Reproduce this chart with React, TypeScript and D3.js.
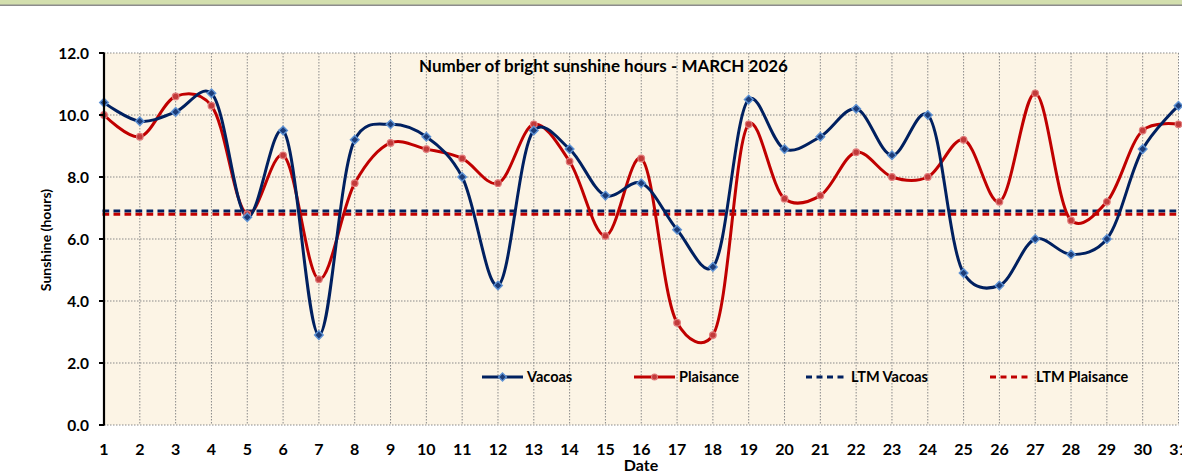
import React from "react";
import * as d3 from "d3";

const days = d3.range(1, 32);
const vacoas = [10.4, 9.8, 10.1, 10.7, 6.7, 9.5, 2.9, 9.2, 9.7, 9.3, 8.0, 4.5, 9.5, 8.9, 7.4, 7.8, 6.3, 5.1, 10.5, 8.9, 9.3, 10.2, 8.7, 10.0, 4.9, 4.5, 6.0, 5.5, 6.0, 8.9, 10.3];
const plaisance = [10.0, 9.3, 10.6, 10.3, 6.8, 8.7, 4.7, 7.8, 9.1, 8.9, 8.6, 7.8, 9.7, 8.5, 6.1, 8.6, 3.3, 2.9, 9.7, 7.3, 7.4, 8.8, 8.0, 8.0, 9.2, 7.2, 10.7, 6.6, 7.2, 9.5, 9.7];
const ltmVacoas = 6.9;
const ltmPlaisance = 6.8;
const yTicks = [0, 2, 4, 6, 8, 10, 12];
const title = "Number of bright sunshine hours - MARCH 2026";
const legendLabels = ["Vacoas", "Plaisance", "LTM Vacoas", "LTM Plaisance"];

const W = 1182;
const H = 474;
const FONT = "Lato, 'Open Sans', sans-serif";
const NAVY = "#002060";
const RED = "#C00000";

export default function App() {
  const x = d3.scaleLinear().domain([1, 31]).range([104, 1178.5]);
  const y = d3.scaleLinear().domain([0, 12]).range([425, 53]);
  const line = d3
    .line<number>()
    .x((_, i) => x(days[i]))
    .y((d) => y(d))
    .curve(d3.curveCatmullRom.alpha(0.25));

  const diamond = (cx: number, cy: number, r: number) =>
    `M${cx},${cy - r}L${cx + r},${cy}L${cx},${cy + r}L${cx - r},${cy}Z`;

  const legendItems = [
    { x0: 482, x1: 523, tx: 527, color: NAVY, kind: "diamond" },
    { x0: 634, x1: 675, tx: 679, color: RED, kind: "circle" },
    { x0: 806, x1: 846, tx: 851, color: NAVY, kind: "dash" },
    { x0: 990, x1: 1030, tx: 1036, color: RED, kind: "dash" },
  ];
  const ly = 377;

  return (
    <svg
      width={W}
      height={H}
      style={{ position: "absolute", left: 0, top: 0, background: "#fff" }}
      fontFamily={FONT}
    >
      <rect x={0} y={0} width={W} height={5} fill="#D3DFAE" />
      <rect x={0} y={4.5} width={W} height={1.5} fill="#8C8C8C" />

      {/* plot area */}
      <rect x={x(1)} y={y(12)} width={x(31) - x(1)} height={y(0) - y(12)} fill="#FCF4E5" />

      {/* grid */}
      {yTicks.map((t) => (
        <line
          key={"h" + t}
          x1={x(1)}
          x2={x(31)}
          y1={y(t)}
          y2={y(t)}
          stroke="#8a8a8a"
          strokeWidth={1}
          strokeDasharray="1.5,1.5"
        />
      ))}
      {days.map((d) => (
        <line
          key={"v" + d}
          x1={x(d)}
          x2={x(d)}
          y1={y(12)}
          y2={y(0)}
          stroke="#8a8a8a"
          strokeWidth={1}
          strokeDasharray="1.5,1.5"
        />
      ))}

      {/* LTM lines */}
      <line x1={x(1) - 1.5} x2={x(31)} y1={y(ltmVacoas)} y2={y(ltmVacoas)} stroke={NAVY} strokeWidth={3} strokeDasharray="6.7,4.3" />
      <line x1={x(1) - 1.5} x2={x(31)} y1={y(ltmPlaisance)} y2={y(ltmPlaisance)} stroke={RED} strokeWidth={3} strokeDasharray="6.7,4.3" />

      {/* series */}
      <path d={line(plaisance) || ""} fill="none" stroke={RED} strokeWidth={3} />
      <path d={line(vacoas) || ""} fill="none" stroke={NAVY} strokeWidth={3} />
      {plaisance.map((v, i) => (
        <circle key={"pc" + i} cx={x(days[i])} cy={y(v)} r={3.3} fill="#C23A3A" stroke="#E07A7A" strokeWidth={1.2} />
      ))}
      {vacoas.map((v, i) => (
        <path key={"vd" + i} d={diamond(x(days[i]), y(v), 4.3)} fill="#1C3C78" stroke="#5E92D4" strokeWidth={1.4} />
      ))}

      {/* y axis */}
      <line x1={x(1)} x2={x(1)} y1={y(12) - 0.5} y2={y(0) + 0.5} stroke="#000" strokeWidth={2.2} />
      {yTicks.map((t) => (
        <g key={"yt" + t}>
          <line x1={x(1) - 5} x2={x(1)} y1={y(t)} y2={y(t)} stroke="#000" strokeWidth={2} />
          <text x={89} y={y(t)} dy="0.36em" textAnchor="end" fontSize={15.5} fontWeight={700} fill="#000">
            {t.toFixed(1)}
          </text>
        </g>
      ))}

      {/* x labels */}
      {days.map((d) => (
        <text key={"xt" + d} x={x(d)} y={455} textAnchor="middle" fontSize={16} fontWeight={700} fill="#000">
          {d}
        </text>
      ))}

      <text x={641} y={471} textAnchor="middle" fontSize={16} fontWeight={700} fill="#000">
        Date
      </text>
      <text
        transform={`translate(51,240) rotate(-90)`}
        textAnchor="middle"
        fontSize={14}
        fontWeight={700}
        fill="#000"
      >
        Sunshine (hours)
      </text>

      <text x={603.5} y={72} textAnchor="middle" fontSize={17} fontWeight={700} fill="#000">
        {title}
      </text>

      {/* legend */}
      {legendItems.map((it, i) => (
        <g key={"lg" + i}>
          {it.kind === "dash" ? (
            <line x1={it.x0} x2={it.x1} y1={ly} y2={ly} stroke={it.color} strokeWidth={3} strokeDasharray="6,4.5" />
          ) : (
            <line x1={it.x0} x2={it.x1} y1={ly} y2={ly} stroke={it.color} strokeWidth={3} />
          )}
          {it.kind === "diamond" && (
            <path d={diamond((it.x0 + it.x1) / 2, ly, 4)} fill="#1C3C78" stroke="#5E92D4" strokeWidth={1.3} />
          )}
          {it.kind === "circle" && (
            <circle cx={(it.x0 + it.x1) / 2} cy={ly} r={3} fill="#C23A3A" stroke="#E07A7A" strokeWidth={1.1} />
          )}
          <text x={it.tx} y={ly} dy="0.36em" fontSize={14.5} fontWeight={700} fill="#000">
            {legendLabels[i]}
          </text>
        </g>
      ))}
    </svg>
  );
}
